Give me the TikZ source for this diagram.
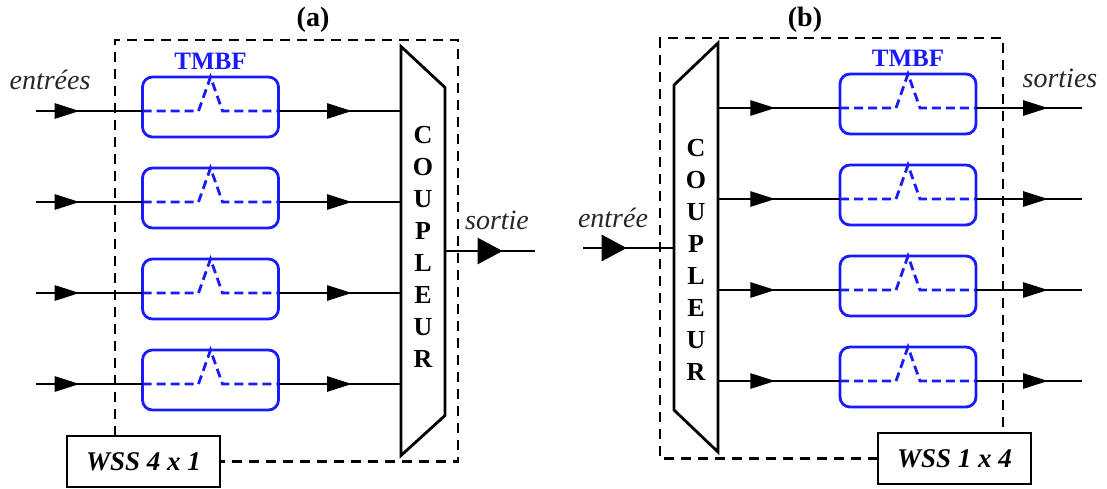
\documentclass[tikz,border=0pt]{standalone}
\usepackage{fontspec}
\setmainfont{Liberation Serif}
\usepackage{xcolor}
\usetikzlibrary{arrows.meta,positioning,decorations.markings}
\definecolor{tmblue}{HTML}{1A1AFF}

\begin{document}
\begin{tikzpicture}[x=0.5pt, y=-0.5pt, line width=1.4pt,
  filt/.style={draw=tmblue, rounded corners=5pt, minimum width=68pt, minimum height=30pt,
    inner sep=0pt, outer sep=0pt},
  peak/.style={draw=tmblue, dash pattern=on 4.5pt off 2.5pt},
  frame/.style={dash pattern=on 5pt off 3.5pt},
  cpl/.style={inner sep=0pt, outer sep=0pt, minimum width=22pt, minimum height=204.5pt},
  letters/.style={align=center, font=\bfseries\fontsize{13}{16}\selectfont},
  wss/.style={draw, line width=1.1pt, minimum width=76.5pt, minimum height=25.5pt, outer sep=0pt,
    font=\bfseries\itshape\fontsize{13.5}{15}\selectfont},
  lbl/.style={text=black!85, font=\itshape\fontsize{14}{16}\selectfont},
  ttl/.style={font=\bfseries\fontsize{14}{16}\selectfont},
  tmbf/.style={text=tmblue, inner sep=0pt, font=\bfseries\fontsize{12.5}{14}\selectfont},
  arr/.style={postaction={decorate}, decoration={markings,
    mark=at position #1 with {\arrow{Triangle[length=12.5pt,width=7.5pt]}}}},
  bigarr/.style={postaction={decorate}, decoration={markings,
    mark=at position #1 with {\arrow{Triangle[length=12.5pt,width=13pt]}}}}]
  \useasboundingbox (0,0) rectangle (1107,488);

  % (a) WSS 4 x 1
  \node[ttl] (tta) at (313,20) {(a)};
  \node[cpl] (cpa) at (423,251) {};
  \draw (cpa.north west) -- ([yshift=-20.5pt]cpa.north east) -- ([yshift=20pt]cpa.south east)
    -- (cpa.south west) -- cycle;
  \node[letters] at ([yshift=2pt]cpa.center) {C\\O\\U\\P\\L\\E\\U\\R};
  \foreach \i/\y in {1/111,2/202,3/293,4/384} {
    \coordinate (ina\i) at (36,\y);
    \node[filt] (ta\i) at (210.5,\y-4) {};
    \draw[peak] (ina\i -| ta\i.west) -- ++(56,0) -- (ta\i.north) -- ++(12,34) -- (ina\i -| ta\i.east);
    \draw[arr=0.41] (ina\i) -- (ina\i -| ta\i.west);
    \draw[arr=0.6] (ina\i -| ta\i.east) -- (ina\i -| cpa.west);
  }
  \node[tmbf, above=3pt of ta1.north] {TMBF};
  \node[lbl] at (50,80) {entrées};
  \coordinate (outa) at (535,251);
  \draw[bigarr=0.64] (outa -| cpa.east) -- (outa);
  \node[lbl] at (497,220) {sortie};
  \node[wss] (wssa) at (143.5,461.5) {WSS 4 x 1};
  \draw[frame] (wssa.north -| 115,436) -- (115,40) -- (458,40) -- (458,461.5) -- (wssa.east);

  % (b) WSS 1 x 4
  \node[ttl] (ttb) at (805,20) {(b)};
  \node[cpl] (cpb) at (696,247.5) {};
  \draw (cpb.north east) -- ([yshift=-21pt]cpb.north west) -- ([yshift=21pt]cpb.south west)
    -- (cpb.south east) -- cycle;
  \node[letters] at ([yshift=-6pt]cpb.center) {C\\O\\U\\P\\L\\E\\U\\R};
  \coordinate (inb) at (583,248);
  \draw[bigarr=0.48] (inb) -- (inb -| cpb.west);
  \node[lbl] at (613,218) {entrée};
  \foreach \i/\y in {1/108,2/199,3/290,4/381} {
    \coordinate (outb\i) at (1082,\y);
    \node[filt] (tb\i) at (908,\y-4) {};
    \draw[peak] (outb\i -| tb\i.west) -- ++(56,0) -- (tb\i.north) -- ++(12,34) -- (outb\i -| tb\i.east);
    \draw[arr=0.47] (outb\i -| cpb.east) -- (outb\i -| tb\i.west);
    \draw[arr=0.68] (outb\i -| tb\i.east) -- (outb\i);
  }
  \node[tmbf, above=3pt of tb1.north] {TMBF};
  \node[lbl] at (1060,78) {sorties};
  \node[wss] (wssb) at (954.5,458.5) {WSS 1 x 4};
  \draw[frame] (wssb.west) -- (660,458.5) -- (660,38) -- (1003,38) -- (wssb.north -| 1003,433);
\end{tikzpicture}
\end{document}
